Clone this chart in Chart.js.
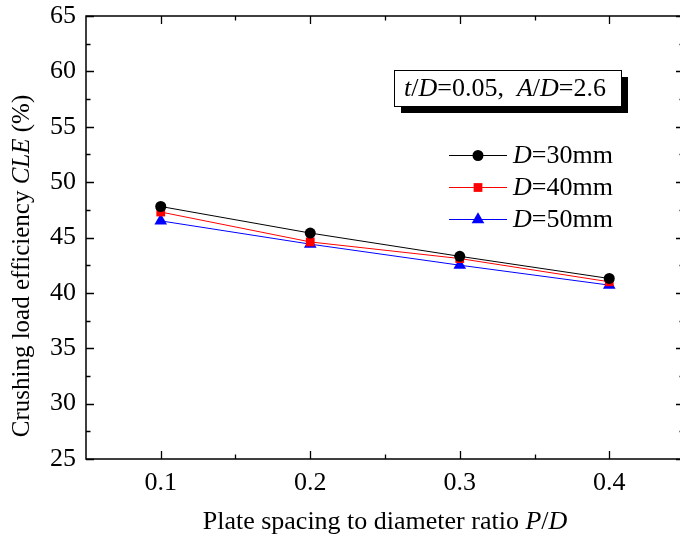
<!DOCTYPE html>
<html>
<head>
<meta charset="utf-8">
<script src="https://cdn.jsdelivr.net/npm/chart.js@4.4.1/dist/chart.umd.min.js"></script>
<style>
  html, body { margin: 0; padding: 0; background: #fff; overflow: hidden; }
  #wrap { width: 680px; height: 545px; overflow: hidden; position: relative; }
  #box { position: absolute; left: 0; top: 0; width: 700px; height: 545px; }
</style>
</head>
<body>
<div id="wrap"><div id="box"><canvas id="c" width="700" height="545"></canvas></div></div>
<script>
// Plate spacing to diameter ratio P/D
const ratios = [0.1, 0.2, 0.3, 0.4];
// Crushing load efficiency CLE (%) for each tube diameter
const cleD30 = [47.8, 45.4, 43.3, 41.3];
const cleD40 = [47.3, 44.6, 43.1, 41.0];
const cleD50 = [46.5, 44.4, 42.5, 40.7];
const diameters = ['30mm', '40mm', '50mm'];
const xTickValues = [0.1, 0.2, 0.3, 0.4];
const xMinorValues = [0.15, 0.25, 0.35];
const yTickValues = [25, 30, 35, 40, 45, 50, 55, 60, 65];
const yMinorValues = [27.5, 32.5, 37.5, 42.5, 47.5, 52.5, 57.5, 62.5];
const noteParts = [['t', true], ['/', false], ['D', true], ['=0.05,  ', false], ['A', true], ['/', false], ['D', true], ['=2.6', false]];
const xTitleParts = [['Plate spacing to diameter ratio ', false], ['P', true], ['/', false], ['D', true]];
const yTitleParts = [['Crushing load efficiency ', false], ['CLE', true], [' (%)', false]];

const SERIF = "'Liberation Serif', 'Times New Roman', serif";
const FS = 26;
const FS_YTITLE = 25;

function font(italic, size) {
  return (italic ? 'italic ' : '') + size + 'px ' + SERIF;
}

// draws a run of mixed upright/italic text, anchored at its centre or left edge
function drawRich(ctx, parts, x, y, size, align) {
  let total = 0;
  parts.forEach(([t, it]) => { ctx.font = font(it, size); total += ctx.measureText(t).width; });
  let cx = align === 'center' ? x - total / 2 : x;
  ctx.textAlign = 'left';
  ctx.textBaseline = 'middle';
  ctx.fillStyle = '#000';
  parts.forEach(([t, it]) => {
    ctx.font = font(it, size);
    ctx.fillText(t, cx, y);
    cx += ctx.measureText(t).width;
  });
  return total;
}

function toPoints(values) {
  return ratios.map((r, i) => ({ x: r, y: values[i] }));
}

const datasets = [
  { label: diameters[0], data: toPoints(cleD30), borderColor: '#000000', backgroundColor: '#000000',
    pointStyle: 'circle', pointRadius: 5.5 },
  { label: diameters[1], data: toPoints(cleD40), borderColor: '#ff0000', backgroundColor: '#ff0000',
    pointStyle: 'rect', pointRadius: 6.2 },
  { label: diameters[2], data: toPoints(cleD50), borderColor: '#0000ff', backgroundColor: '#0000ff',
    pointStyle: 'triangle', pointRadius: 7.3 }
].map(d => Object.assign(d, { borderWidth: 1, pointBorderWidth: 0, pointHoverRadius: d.pointRadius, tension: 0, fill: false }));

// frame with inward major/minor ticks on all four sides, legend, note box and axis titles
const framePlugin = {
  id: 'frame',
  afterDraw(chart) {
    const ctx = chart.ctx;
    const a = chart.chartArea;
    const xs = chart.scales.x, ys = chart.scales.y;
    ctx.save();
    ctx.strokeStyle = '#000';
    ctx.lineWidth = 1.5;
    ctx.strokeRect(a.left, a.top, a.right - a.left, a.bottom - a.top);
    ctx.beginPath();
    const major = 8, minor = 4.5;
    xTickValues.forEach(v => {
      const px = Math.round(xs.getPixelForValue(v)) + 0.5;
      ctx.moveTo(px, a.bottom); ctx.lineTo(px, a.bottom - major);
      ctx.moveTo(px, a.top); ctx.lineTo(px, a.top + major);
    });
    xMinorValues.forEach(v => {
      const px = Math.round(xs.getPixelForValue(v)) + 0.5;
      ctx.moveTo(px, a.bottom); ctx.lineTo(px, a.bottom - minor);
      ctx.moveTo(px, a.top); ctx.lineTo(px, a.top + minor);
    });
    yTickValues.forEach(v => {
      const py = Math.round(ys.getPixelForValue(v)) + 0.5;
      ctx.moveTo(a.left, py); ctx.lineTo(a.left + major, py);
      ctx.moveTo(a.right, py); ctx.lineTo(a.right - major, py);
    });
    yMinorValues.forEach(v => {
      const py = Math.round(ys.getPixelForValue(v)) + 0.5;
      ctx.moveTo(a.left, py); ctx.lineTo(a.left + minor, py);
      ctx.moveTo(a.right, py); ctx.lineTo(a.right - minor, py);
    });
    ctx.lineWidth = 1.3;
    ctx.stroke();

    // note box with drop shadow
    const bx = a.left + 308, by = a.top + 54, bw = 227, bh = 36;
    ctx.fillStyle = '#000';
    ctx.fillRect(bx + 7, by + 7, bw, bh);
    ctx.fillStyle = '#fff';
    ctx.fillRect(bx, by, bw, bh);
    ctx.lineWidth = 1;
    ctx.strokeStyle = '#000';
    ctx.strokeRect(bx + 0.5, by + 0.5, bw, bh);
    drawRich(ctx, noteParts, bx + 10, by + bh / 2 + 1, FS, 'left');

    // legend: line through marker, then label
    chart.data.datasets.forEach((ds, i) => {
      const ly = a.top + 139 + i * 32;
      const lx0 = a.left + 363, lx1 = a.left + 421;
      ctx.beginPath();
      ctx.strokeStyle = ds.borderColor;
      ctx.lineWidth = ds.borderWidth;
      ctx.moveTo(lx0, ly + 0.5); ctx.lineTo(lx1, ly + 0.5);
      ctx.stroke();
      ctx.fillStyle = ds.backgroundColor;
      ctx.strokeStyle = ds.backgroundColor;
      Chart.helpers.drawPoint(ctx, { pointStyle: ds.pointStyle, rotation: 0, radius: ds.pointRadius, borderWidth: 0 },
        (lx0 + lx1) / 2, ly + 0.5);
      drawRich(ctx, [['D', true], ['=' + ds.label, false]], lx1 + 6, ly + 1, FS, 'left');
    });

    // axis titles
    drawRich(ctx, xTitleParts, (a.left + a.right) / 2, a.bottom + 63, FS, 'center');
    ctx.save();
    ctx.translate(a.left - 64, a.top + 250);
    ctx.rotate(-Math.PI / 2);
    drawRich(ctx, yTitleParts, 0, 0, FS_YTITLE, 'center');
    ctx.restore();
    ctx.restore();
  }
};

new Chart(document.getElementById('c'), {
  type: 'line',
  data: { datasets },
  options: {
    responsive: false,
    animation: false,
    devicePixelRatio: 1,
    layout: { padding: { top: 16, right: 16, left: 0, bottom: 0 } },
    plugins: { legend: { display: false }, tooltip: { enabled: false } },
    scales: {
      x: {
        type: 'linear', min: 0.05, max: 0.45,
        afterBuildTicks: s => { s.ticks = xTickValues.map(v => ({ value: v })); },
        afterFit: s => { s.height = 86; s.paddingLeft = 0; s.paddingRight = 0; },
        grid: { display: false, drawTicks: false },
        border: { display: false },
        ticks: { color: '#000', font: { family: SERIF, size: FS }, padding: 9, maxRotation: 0, autoSkip: false,
                 callback: v => v.toFixed(1) }
      },
      y: {
        type: 'linear', min: 25, max: 65,
        afterBuildTicks: s => { s.ticks = yTickValues.map(v => ({ value: v })); },
        afterFit: s => { s.width = 86; s.paddingTop = 0; s.paddingBottom = 0; },
        grid: { display: false, drawTicks: false },
        border: { display: false },
        ticks: { color: '#000', font: { family: SERIF, size: FS }, padding: 10, autoSkip: false,
                 callback: v => String(v) }
      }
    }
  },
  plugins: [framePlugin]
});
</script>
</body>
</html>
